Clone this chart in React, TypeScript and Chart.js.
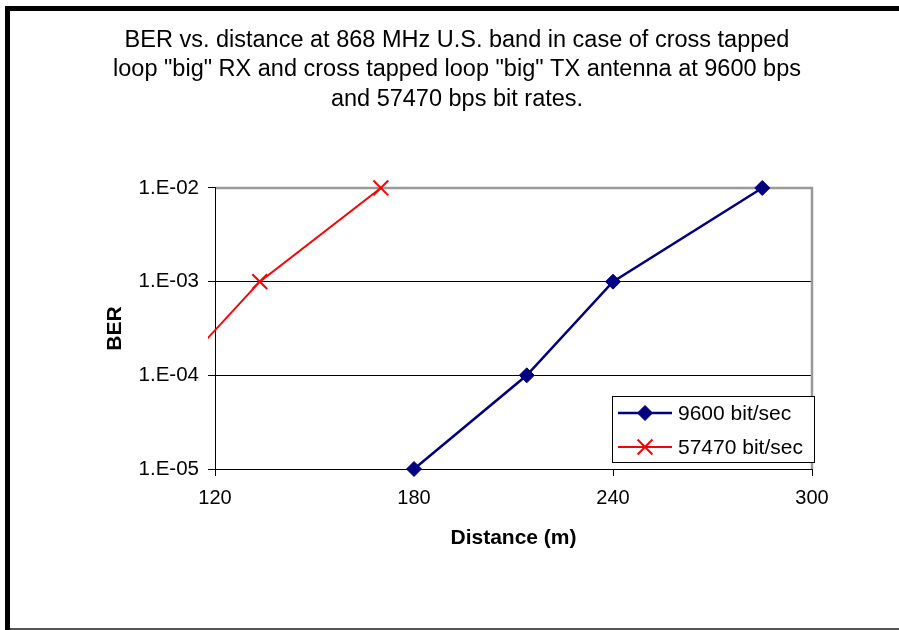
import React, { useEffect, useRef } from 'react';
import { Chart, registerables } from 'chart.js';

Chart.register(...registerables);

const FONT = '"Liberation Sans", Arial, Helvetica, sans-serif';

const titleLines = [
  'BER vs. distance at 868 MHz U.S. band in case of cross tapped',
  'loop "big" RX and cross tapped loop "big" TX antenna at 9600 bps',
  'and 57470 bps bit rates.',
];
const xAxisTitle = 'Distance (m)';
const yAxisTitle = 'BER';

const series1Label = '9600 bit/sec';
const series1X = [180, 214, 240, 285];
const series1Y = [1e-5, 1e-4, 1e-3, 1e-2];

const series2Label = '57470 bit/sec';
const series2X = [107.5, 133.5, 170];
const series2Y = [1e-4, 1e-3, 1e-2];

const xTickValues = [120, 180, 240, 300];
const yTickValues = [1e-5, 1e-4, 1e-3, 1e-2];
const yTickLabels = ['1.E-05', '1.E-04', '1.E-03', '1.E-02'];

function drawMarker(ctx: CanvasRenderingContext2D, style: string, x: number, y: number, r: number, color: string, bw: number) {
  ctx.save();
  ctx.fillStyle = color;
  ctx.strokeStyle = color;
  ctx.lineWidth = bw;
  ctx.beginPath();
  if (style === 'rectRot') {
    ctx.moveTo(x, y - r);
    ctx.lineTo(x + r, y);
    ctx.lineTo(x, y + r);
    ctx.lineTo(x - r, y);
    ctx.closePath();
    ctx.fill();
    ctx.stroke();
  } else {
    const d = r * Math.SQRT1_2;
    ctx.moveTo(x - d, y - d);
    ctx.lineTo(x + d, y + d);
    ctx.moveTo(x + d, y - d);
    ctx.lineTo(x - d, y + d);
    ctx.stroke();
  }
  ctx.restore();
}

const frameBorderPlugin = {
  id: 'frameBorder',
  beforeDatasetsDraw(chart: any) {
    const { ctx, chartArea } = chart;
    ctx.save();
    ctx.strokeStyle = '#999999';
    ctx.lineWidth = 2.5;
    ctx.beginPath();
    ctx.moveTo(chartArea.left + 1, chartArea.top);
    ctx.lineTo(chartArea.right, chartArea.top);
    ctx.lineTo(chartArea.right, chartArea.bottom);
    ctx.stroke();
    ctx.restore();
  },
};

const boxLegendPlugin = {
  id: 'boxLegend',
  afterDatasetsDraw(chart: any) {
    const ctx: CanvasRenderingContext2D = chart.ctx;
    const area = chart.chartArea;
    const w = 202;
    const h = 66;
    const x0 = area.right + 2 - w;
    const y0 = area.bottom - 73;
    ctx.save();
    ctx.fillStyle = '#ffffff';
    ctx.fillRect(x0, y0, w, h);
    ctx.strokeStyle = '#000000';
    ctx.lineWidth = 1;
    ctx.strokeRect(x0 + 0.5, y0 + 0.5, w, h);
    chart.data.datasets.forEach((ds: any, i: number) => {
      const cy = y0 + 17 + i * 34;
      ctx.strokeStyle = ds.borderColor;
      ctx.lineWidth = ds.borderWidth;
      ctx.beginPath();
      ctx.moveTo(x0 + 6, cy);
      ctx.lineTo(x0 + 60, cy);
      ctx.stroke();
      drawMarker(ctx, ds.pointStyle, x0 + 33, cy, ds.pointRadius, ds.borderColor, ds.pointBorderWidth);
      ctx.fillStyle = '#000000';
      ctx.font = `21px ${FONT}`;
      ctx.textAlign = 'left';
      ctx.textBaseline = 'middle';
      ctx.fillText(ds.label, x0 + 66, cy + 1);
    });
    ctx.restore();
  },
};

export default function App() {
  const canvasRef = useRef<HTMLCanvasElement | null>(null);

  useEffect(() => {
    const canvas = canvasRef.current;
    if (!canvas) return;
    const chart = new Chart(canvas, {
      type: 'line',
      data: {
        datasets: [
          {
            label: series1Label,
            data: series1X.map((x, i) => ({ x, y: series1Y[i] })),
            borderColor: '#000080',
            backgroundColor: '#000080',
            borderWidth: 2.5,
            pointStyle: 'rectRot',
            pointRadius: 7.5,
            pointBorderWidth: 1,
            pointBackgroundColor: '#000080',
            pointBorderColor: '#000080',
            tension: 0,
            clip: { left: 7, top: false, right: false, bottom: false } as any,
          },
          {
            label: series2Label,
            data: series2X.map((x, i) => ({ x, y: series2Y[i] })),
            borderColor: '#ff0000',
            backgroundColor: '#ff0000',
            borderWidth: 2,
            pointStyle: 'crossRot',
            pointRadius: 10.5,
            pointBorderWidth: 2,
            pointBorderColor: '#ff0000',
            pointBackgroundColor: '#ff0000',
            tension: 0,
            clip: { left: 7, top: false, right: false, bottom: false } as any,
          },
        ],
      },
      options: {
        responsive: false,
        animation: false,
        devicePixelRatio: 1,
        events: [],
        layout: { padding: { left: 0, right: 87, top: 0, bottom: 0 }, autoPadding: false } as any,
        plugins: {
          legend: { display: false },
          tooltip: { enabled: false },
          title: {
            display: true,
            text: titleLines,
            color: '#000000',
            font: { family: FONT, size: 23.5, weight: 'normal', lineHeight: 1.255 },
            padding: { top: 25.5, bottom: 74 },
          },
        },
        scales: {
          x: {
            type: 'linear',
            min: 120,
            max: 300,
            afterBuildTicks: (s: any) => {
              s.ticks = xTickValues.map((v) => ({ value: v }));
            },
            afterFit: (s: any) => {
              s.height = 161;
            },
            grid: { drawOnChartArea: false, drawTicks: true, tickLength: 7, tickColor: '#000000', color: '#000000' },
            border: { color: '#000000', width: 1 },
            ticks: { color: '#000000', font: { family: FONT, size: 20 }, padding: 10, maxRotation: 0, autoSkip: false },
            title: {
              display: true,
              text: xAxisTitle,
              color: '#000000',
              font: { family: FONT, size: 21, weight: 'bold' },
              padding: { top: 0, bottom: 79 },
            },
          },
          y: {
            type: 'logarithmic',
            min: 1e-5,
            max: 1e-2,
            afterBuildTicks: (s: any) => {
              s.ticks = yTickValues.map((v) => ({ value: v }));
            },
            afterFit: (s: any) => {
              s.width = 113;
            },
            grid: {
              color: (c: any) => (c.tick && c.tick.value >= 1e-2 ? 'rgba(0,0,0,0)' : '#000000'),
              tickColor: '#000000',
              tickLength: 7,
              lineWidth: 1,
            },
            border: { color: '#000000', width: 1 },
            ticks: {
              color: '#000000',
              font: { family: FONT, size: 20.5 },
              padding: 9,
              autoSkip: false,
              callback: (_v: any, i: number) => yTickLabels[i],
            },
            title: {
              display: true,
              text: yAxisTitle,
              color: '#000000',
              font: { family: FONT, size: 21, weight: 'bold' },
              padding: { top: 1, bottom: 0 },
            },
          },
        },
      } as any,
      plugins: [frameBorderPlugin, boxLegendPlugin],
    });
    return () => chart.destroy();
  }, []);

  return (
    <div style={{ position: 'fixed', left: 0, top: 0, width: 899, height: 630, background: '#ffffff', overflow: 'hidden' }}>
      <canvas ref={canvasRef} width={797} height={630} style={{ position: 'absolute', left: 102, top: 0, width: 797, height: 630 }} />
      <div style={{ position: 'absolute', left: 5, top: 6, width: 894, height: 5, background: '#000000' }} />
      <div style={{ position: 'absolute', left: 5, top: 6, width: 5, height: 624, background: '#000000' }} />
      <div style={{ position: 'absolute', left: 10, top: 628, width: 889, height: 2, background: '#555555' }} />
    </div>
  );
}
